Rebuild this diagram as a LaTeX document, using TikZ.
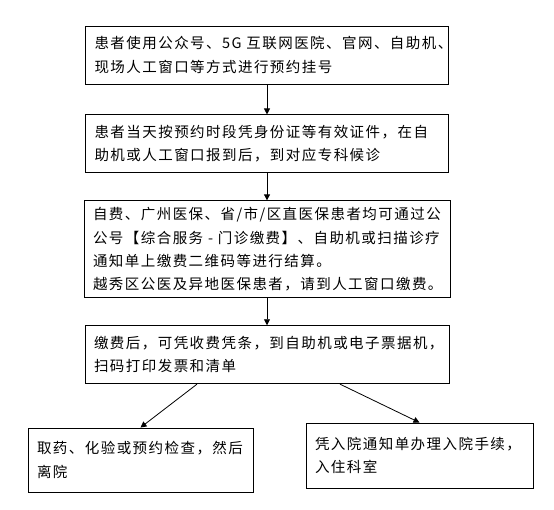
\documentclass[tikz,border=0pt]{standalone}
\usepackage{fontspec}
\setmainfont[LetterSpace=10]{Noto Sans CJK SC}
\usetikzlibrary{arrows.meta, positioning}
\tikzset{
  box/.style   = {rectangle, draw=black, line width=0.9pt, align=left,
                  inner xsep=9pt, inner ysep=3pt,
                  font=\fontsize{14.5}{23.3}\selectfont},
  arrow/.style = {-{Triangle[length=6pt, width=6pt]}, line width=0.8pt, color=black},
}

\begin{document}
\begin{tikzpicture}[x=1pt, y=1pt, node distance=27pt]

\useasboundingbox (0,0) rectangle (554,-509);

\node[box, text width=345pt, minimum width=363pt, minimum height=58pt] (book) at (267,-55)
  {患者使用公众号、5G~互联网医院、官网、自助机、\\现场人工窗口等方式进行预约挂号};
\node[box, text width=345pt, minimum width=363pt, minimum height=58pt, below=30pt of book] (arrive)
  {患者当天按预约时段凭身份证等有效证件，在自\\助机或人工窗口报到后，到对应专科候诊};
\node[box, text width=348pt, minimum width=366pt, minimum height=97pt, below=of arrive] (pay)
  {自费、广州医保、省/市/区直医保患者均可通过公\\公号【综合服务 - 门诊缴费】、自助机或扫描诊疗\\通知单上缴费二维码等进行结算。\\越秀区公医及异地医保患者，请到人工窗口缴费。};
\node[box, text width=346pt, minimum width=364pt, minimum height=58pt, below=of pay] (bill)
  {缴费后，可凭收费凭条，到自助机或电子票据机，\\扫码打印发票和清单};

\node[box, text width=207pt, minimum width=225pt, minimum height=64pt] (leave) at (140.5,-460)
  {取药、化验或预约检查，然后\\离院};
\node[box, text width=209pt, minimum width=227pt, minimum height=65pt] (admit) at (419.5,-455.5)
  {凭入院通知单办理入院手续，\\入住科室};

\draw[arrow] (book)   -- (arrive);
\draw[arrow] (arrive) -- (pay);
\draw[arrow] (pay)    -- (bill);
\draw[arrow] ([xshift=-70pt]bill.south) -- (leave.north);
\draw[arrow] ([xshift=73pt]bill.south)  -- (admit.north);

\end{tikzpicture}
\end{document}
